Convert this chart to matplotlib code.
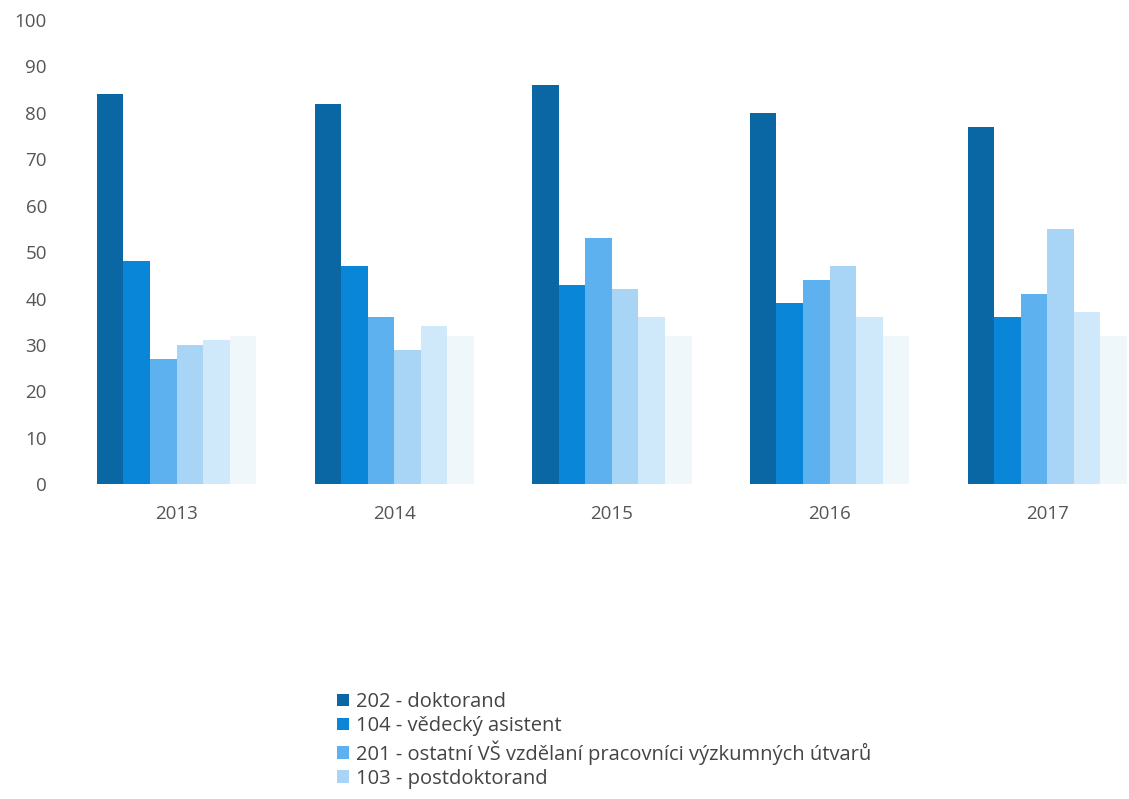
import matplotlib.pyplot as plt
import numpy as np

plt.rcParams['font.family'] = ['Open Sans', 'DejaVu Sans']

years = ['2013', '2014', '2015', '2016', '2017']
labels = ['202 - doktorand', '104 - vědecký asistent',
          '201 - ostatní VŠ vzdělaní pracovníci výzkumných útvarů',
          '103 - postdoktorand', 'series 5', 'series 6']
doktorand = [84, 82, 86, 80, 77]
asistent = [48, 47, 43, 39, 36]
ostatni = [27, 36, 53, 44, 41]
postdok = [30, 29, 42, 47, 55]
series5 = [31, 34, 36, 36, 37]
series6 = [32, 32, 32, 32, 32]
colors = ['#0b67a3', '#0986d8', '#5cb1ee', '#a8d5f5', '#cfe9fa', '#f0f7fa']

data = [doktorand, asistent, ostatni, postdok, series5, series6]

fig = plt.figure(figsize=(11.29, 7.99), dpi=100)
ax = fig.add_axes([0.060, 0.394, 0.964, 0.581])

x = np.arange(len(years))
w = 0.122
bars = []
for i, vals in enumerate(data):
    b = ax.bar(x + (i - 2.5) * w, vals, w, color=colors[i], label=labels[i])
    bars.append(b)

ax.set_xlim(-0.5, 4.5)
ax.set_ylim(0, 100)
ax.set_yticks(range(0, 101, 10))
ax.set_xticks(x)
ax.set_xticklabels(years)
for s in ax.spines.values():
    s.set_visible(False)
ax.tick_params(length=0, colors='#555555', labelsize=13.5)
ax.tick_params(axis='y', pad=15)
ax.tick_params(axis='x', pad=15)

fig.legend(bars[:4], labels[:4], loc='upper left',
           bbox_to_anchor=(0.290, 1 - 682 / 799), frameon=False,
           fontsize=14.5, handlelength=0.55, handleheight=0.55,
           handletextpad=0.35, labelspacing=0.2, labelcolor='#444444',
           borderpad=0)

fig.savefig('out.png', dpi=100)
